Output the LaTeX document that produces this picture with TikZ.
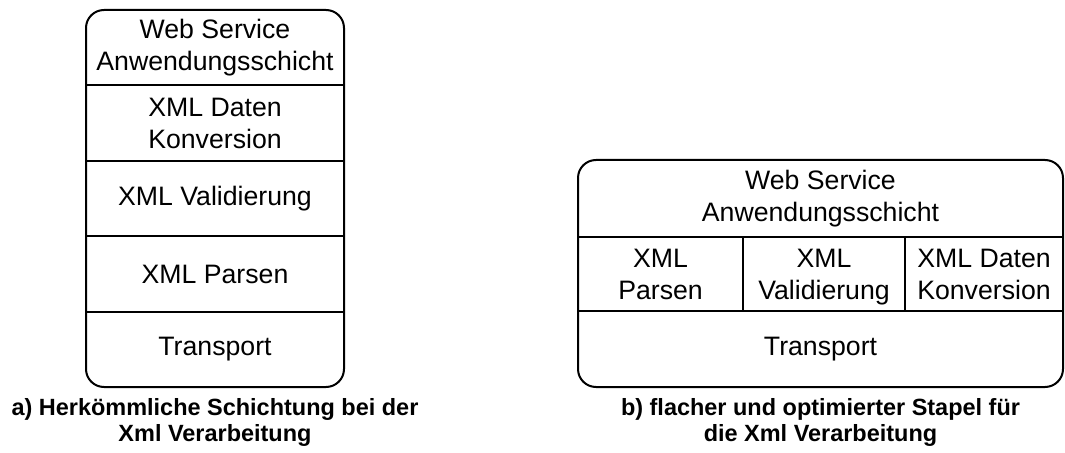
\documentclass[tikz,border=0pt]{standalone}
\usepackage{fontspec}
\setmainfont{Liberation Sans}

\begin{document}
\begin{tikzpicture}[x = 0.75pt, y = -0.75pt]
    \tikzstyle{every node} = [align = center, inner sep = 0pt, font = \fontsize{20}{24}\selectfont];
    \tikzstyle{caption} = [font = \fontsize{17.6}{19.8}\selectfont\bfseries];
    \tikzstyle{cell} = [anchor = north];
    \tikzstyle{frame} = [line width = 1.5pt, rounded corners = 13.5pt];
    \tikzstyle{rule} = [line width = 1.5pt];
    \tikzstyle{midrow} = [line width = 2.2pt];
    \useasboundingbox (0,0) rectangle (1065,453);
    % left stack:
    \draw[frame] (86,10) rectangle (344,387);
    \draw[rule] (86,85) -- (344,85); \draw[rule] (86,161) -- (344,161);
    \draw[rule] (86,236) -- (344,236); \draw[rule] (86,312) -- (344,312);
    \node (web1) at (215,48){Web Service\\Anwendungsschicht};
    \node (daten1) at (215,123.5){XML Daten\\Konversion};
    \node (valid1) at (215,198.5){XML Validierung};
    \node (parsen1) at (215,274){XML Parsen};
    \node (trans1) at (215,349.5){Transport};
    % right stack:
    \draw[frame] (578,160) rectangle (1063,387);
    \draw[midrow] (578,237) rectangle (1063,311);
    \draw[rule] (743,237) -- (743,311); \draw[rule] (905,237) -- (905,311);
    \node (web2) at (820.5,199){Web Service\\Anwendungsschicht};
    \node[cell] (parsen2) at (660.5,249){XML\\Parsen};
    \node[cell] (valid2) at (824,249){XML\\Validierung};
    \node[cell] (daten2) at (984,249){XML Daten\\Konversion};
    \node (trans2) at (820.5,349){Transport};
    % captions:
    \node[caption] (capa) at (215,422.5){a) Herkömmliche Schichtung bei der\\Xml Verarbeitung};
    \node[caption] (capb) at (820.5,422.5){b) flacher und optimierter Stapel für\\die Xml Verarbeitung};
\end{tikzpicture}
\end{document}
